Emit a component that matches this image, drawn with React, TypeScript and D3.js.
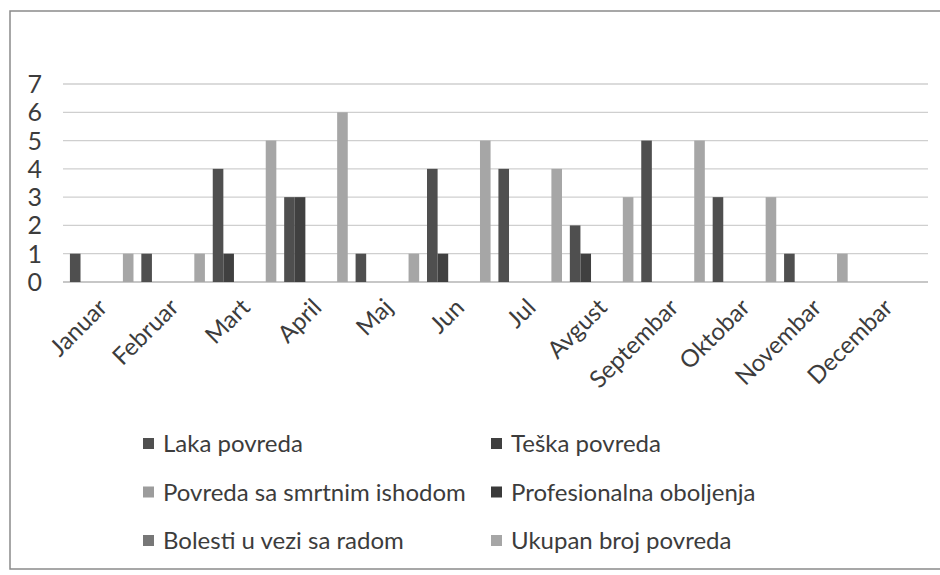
import * as d3 from "d3";
import { useEffect, useRef } from "react";

// months on the x axis
const months = ["Januar", "Februar", "Mart", "April", "Maj", "Jun", "Jul", "Avgust", "Septembar", "Oktobar", "Novembar", "Decembar"];

// series names (legend order)
const seriesNames = ["Laka povreda", "Teška povreda", "Povreda sa smrtnim ishodom", "Profesionalna oboljenja", "Bolesti u vezi sa radom", "Ukupan broj povreda"];
const seriesColors = ["#4f4f4f", "#404040", "#9c9c9c", "#3a3a3a", "#777777", "#a6a6a6"];

// values per series, one per month
const lakaPovreda = [1, 1, 4, 3, 1, 4, 4, 2, 5, 3, 1, 0];
const teskaPovreda = [0, 0, 1, 3, 0, 1, 0, 1, 0, 0, 0, 0];
const smrtniIshod = [0, 0, 0, 0, 0, 0, 0, 0, 0, 0, 0, 0];
const profOboljenja = [0, 0, 0, 0, 0, 0, 0, 0, 0, 0, 0, 0];
const bolesti = [0, 0, 0, 0, 0, 0, 0, 0, 0, 0, 0, 0];
const ukupno = [1, 1, 5, 6, 1, 5, 4, 3, 5, 3, 1, 0];

const yTicks = [0, 1, 2, 3, 4, 5, 6, 7];

const FONT = "Lato, 'Open Sans', sans-serif";

const App = () => {
  const ref: any = useRef();

  useEffect(() => {
    const svg = d3.select(ref.current);
    svg.selectAll("*").remove();

    const allSeries = [lakaPovreda, teskaPovreda, smrtniIshod, profOboljenja, bolesti, ukupno];

    // frame round the chart
    svg.append("rect")
      .attr("x", 10).attr("y", 11)
      .attr("width", 940).attr("height", 558)
      .attr("fill", "#fff")
      .attr("stroke", "#8a8a8a")
      .attr("stroke-width", 1.5);

    const x: any = d3.scaleBand().domain(months).range([66, 923]).padding(0);
    const xs: any = d3.scaleBand().domain(seriesNames).range([0, x.bandwidth()]).paddingInner(0).paddingOuter(0.37);
    const y: any = d3.scaleLinear().domain([0, 7]).range([282, 84]);

    // gridlines
    svg.append("g")
      .selectAll("line")
      .data(yTicks)
      .join("line")
      .attr("x1", 63).attr("x2", 928)
      .attr("y1", (d: any) => y(d)).attr("y2", (d: any) => y(d))
      .attr("stroke", (d: any) => d === 0 ? "#b5b5b5" : "#cfcfcf")
      .attr("stroke-width", 1.3);

    // y labels
    svg.append("g")
      .selectAll("text")
      .data(yTicks)
      .join("text")
      .attr("x", 42)
      .attr("y", (d: any) => y(d))
      .attr("dy", "0.36em")
      .attr("text-anchor", "end")
      .attr("font-family", FONT)
      .attr("font-size", 25)
      .attr("fill", "#3c3c3c")
      .text((d: any) => d);

    // bars
    const groups = svg.append("g")
      .selectAll("g")
      .data(months)
      .join("g")
      .attr("transform", (m: any) => `translate(${x(m)},0)`);

    groups.selectAll("rect")
      .data((m: any) => seriesNames.map((s, k) => ({ s, k, v: allSeries[k][months.indexOf(m)] })))
      .join("rect")
      .attr("x", (d: any) => xs(d.s))
      .attr("width", xs.bandwidth())
      .attr("y", (d: any) => y(d.v))
      .attr("height", (d: any) => y(0) - y(d.v))
      .attr("fill", (d: any) => seriesColors[d.k]);

    // month labels, rotated
    svg.append("g")
      .selectAll("text")
      .data(months)
      .join("text")
      .attr("transform", (m: any) => `translate(${x(m) + x.bandwidth() / 2 + 1},${303}) rotate(-45)`)
      .attr("text-anchor", "end")
      .attr("dy", "0.35em")
      .attr("font-family", FONT)
      .attr("font-size", 24)
      .attr("fill", "#3c3c3c")
      .text((m: any) => m);

    // legend, two columns
    const legend = svg.append("g")
      .selectAll("g")
      .data(seriesNames)
      .join("g")
      .attr("transform", (d: any, i: any) => `translate(${i % 2 === 0 ? 143 : 491},${444 + Math.floor(i / 2) * 48.5})`);

    legend.append("rect")
      .attr("x", 0).attr("y", -6)
      .attr("width", 11).attr("height", 11)
      .attr("fill", (d: any, i: any) => seriesColors[i]);

    legend.append("text")
      .attr("x", 20)
      .attr("dy", "0.35em")
      .attr("font-family", FONT)
      .attr("font-size", 24)
      .attr("fill", "#3c3c3c")
      .text((d: any) => d);
  }, []);

  return (
    <svg ref={ref} width={940} height={575} style={{ position: "absolute", left: 0, top: 0, background: "#fff" }} />
  );
};

export default App;
